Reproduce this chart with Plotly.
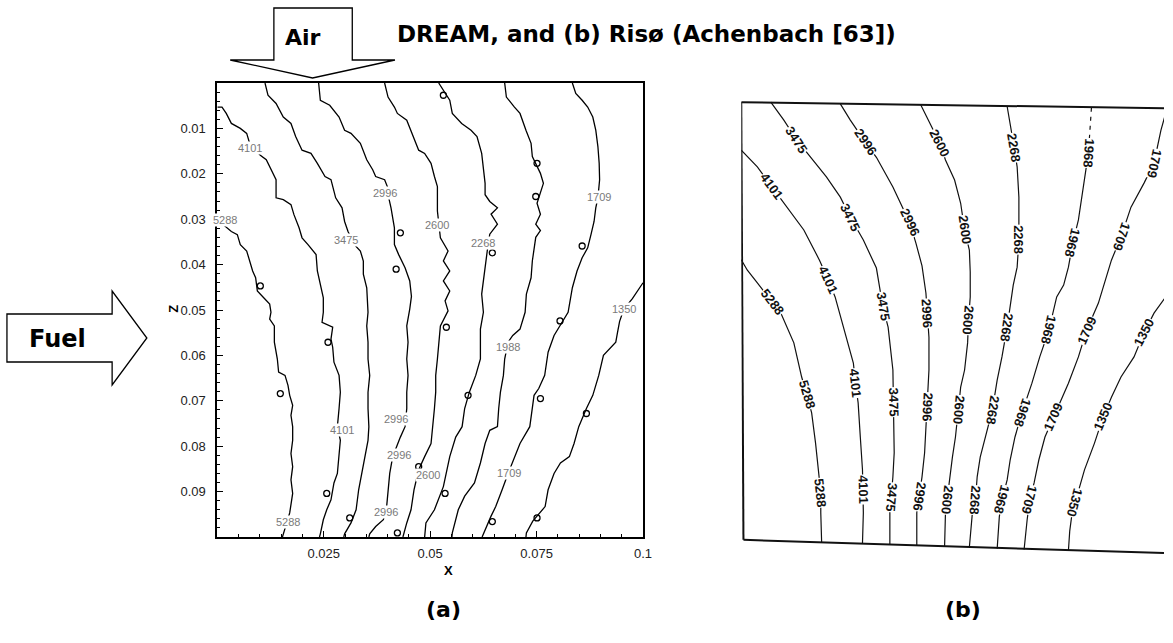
import math
import numpy as np
import plotly.graph_objects as go

W, H = 1173, 643

# ---------------- panel (a): DREAM isotherm lines, x and z in metres ----------------
A_5288_X = [0.0, 0.0015, 0.0033, 0.0047, 0.0054, 0.0069, 0.0076, 0.0083, 0.0090, 0.0094, 0.0109, 0.0123, 0.0126, 0.0123, 0.0134, 0.0134, 0.0141, 0.0144, 0.0159, 0.0166, 0.0170, 0.0177, 0.0173, 0.0177, 0.0177, 0.0173, 0.0177, 0.0173, 0.0177, 0.0173, 0.0170, 0.0163, 0.0155, 0.0153]
A_5288_Z = [0.0301, 0.0312, 0.0327, 0.0334, 0.0356, 0.0370, 0.0392, 0.0414, 0.0429, 0.0458, 0.0473, 0.0487, 0.0505, 0.0520, 0.0535, 0.0571, 0.0608, 0.0637, 0.0644, 0.0666, 0.0688, 0.0710, 0.0732, 0.0757, 0.0787, 0.0816, 0.0845, 0.0874, 0.0904, 0.0925, 0.0947, 0.0969, 0.0993, 0.1000]

A_4101_X = [0.0, 0.0011, 0.0021, 0.0033, 0.0054, 0.0069, 0.0076, 0.0101, 0.0115, 0.0126, 0.0138, 0.0138, 0.0155, 0.0173, 0.0180, 0.0192, 0.0199, 0.0213, 0.0232, 0.0235, 0.0242, 0.0249, 0.0249, 0.0246, 0.0271, 0.0267, 0.0271, 0.0274, 0.0286, 0.0289, 0.0286, 0.0282, 0.0289, 0.0286, 0.0282, 0.0274, 0.0267, 0.0257, 0.0249, 0.0242, 0.0240]
A_4101_Z = [0.0053, 0.0053, 0.0067, 0.0089, 0.0100, 0.0111, 0.0133, 0.0159, 0.0169, 0.0191, 0.0213, 0.0253, 0.0257, 0.0268, 0.0290, 0.0319, 0.0341, 0.0356, 0.0378, 0.0414, 0.0443, 0.0473, 0.0505, 0.0527, 0.0538, 0.0564, 0.0582, 0.0615, 0.0644, 0.0681, 0.0717, 0.0757, 0.0787, 0.0823, 0.0860, 0.0881, 0.0918, 0.0940, 0.0962, 0.0993, 0.1000]

A_3475_X = [0.0112, 0.0119, 0.0138, 0.0155, 0.0173, 0.0184, 0.0199, 0.0220, 0.0235, 0.0253, 0.0267, 0.0274, 0.0278, 0.0293, 0.0299, 0.0307, 0.0322, 0.0336, 0.0343, 0.0343, 0.0351, 0.0354, 0.0351, 0.0354, 0.0354, 0.0358, 0.0354, 0.0354, 0.0356, 0.0354, 0.0347, 0.0339, 0.0332, 0.0326, 0.0314, 0.0299, 0.0297]
A_3475_Z = [0.0, 0.0027, 0.0045, 0.0075, 0.0089, 0.0118, 0.0148, 0.0155, 0.0177, 0.0206, 0.0213, 0.0235, 0.0253, 0.0275, 0.0305, 0.0327, 0.0356, 0.0370, 0.0392, 0.0421, 0.0451, 0.0505, 0.0535, 0.0571, 0.0608, 0.0644, 0.0681, 0.0717, 0.0757, 0.0787, 0.0823, 0.0860, 0.0896, 0.0940, 0.0969, 0.0993, 0.1000]

A_2996_X = [0.0238, 0.0242, 0.0264, 0.0286, 0.0299, 0.0314, 0.0336, 0.0351, 0.0365, 0.0372, 0.0393, 0.0401, 0.0401, 0.0408, 0.0416, 0.0416, 0.0426, 0.0441, 0.0452, 0.0456, 0.0452, 0.0445, 0.0448, 0.0445, 0.0448, 0.0445, 0.0445, 0.0441, 0.0430, 0.0412, 0.0405, 0.0401, 0.0397, 0.0390, 0.0372, 0.0358, 0.0356]
A_2996_Z = [0.0, 0.0038, 0.0049, 0.0075, 0.0104, 0.0111, 0.0133, 0.0169, 0.0191, 0.0206, 0.0213, 0.0232, 0.0246, 0.0275, 0.0319, 0.0356, 0.0378, 0.0407, 0.0436, 0.0470, 0.0498, 0.0535, 0.0571, 0.0608, 0.0644, 0.0681, 0.0717, 0.0757, 0.0780, 0.0823, 0.0860, 0.0896, 0.0940, 0.0962, 0.0977, 0.0993, 0.1000]

A_2600_X = [0.0393, 0.0401, 0.0416, 0.0423, 0.0445, 0.0458, 0.0473, 0.0487, 0.0502, 0.0510, 0.0517, 0.0517, 0.0517, 0.0524, 0.0542, 0.0531, 0.0546, 0.0531, 0.0546, 0.0535, 0.0542, 0.0524, 0.0521, 0.0517, 0.0513, 0.0513, 0.0510, 0.0506, 0.0502, 0.0487, 0.0473, 0.0462, 0.0455, 0.0445, 0.0437, 0.0436]
A_2600_Z = [0.0, 0.0031, 0.0053, 0.0067, 0.0082, 0.0111, 0.0148, 0.0155, 0.0177, 0.0206, 0.0228, 0.0253, 0.0282, 0.0341, 0.0370, 0.0392, 0.0414, 0.0436, 0.0458, 0.0480, 0.0502, 0.0535, 0.0571, 0.0608, 0.0644, 0.0681, 0.0717, 0.0757, 0.0794, 0.0823, 0.0852, 0.0896, 0.0940, 0.0969, 0.0993, 0.1000]

A_2268_X = [0.0520, 0.0546, 0.0552, 0.0574, 0.0596, 0.0610, 0.0621, 0.0625, 0.0629, 0.0629, 0.0640, 0.0658, 0.0643, 0.0658, 0.0640, 0.0636, 0.0625, 0.0621, 0.0625, 0.0618, 0.0618, 0.0607, 0.0592, 0.0581, 0.0575, 0.0560, 0.0546, 0.0531, 0.0510, 0.0490, 0.0487]
A_2268_Z = [0.0, 0.0038, 0.0067, 0.0089, 0.0104, 0.0118, 0.0155, 0.0191, 0.0221, 0.0246, 0.0261, 0.0275, 0.0289, 0.0311, 0.0333, 0.0356, 0.0429, 0.0465, 0.0505, 0.0542, 0.0608, 0.0644, 0.0681, 0.0717, 0.0757, 0.0780, 0.0823, 0.0889, 0.0940, 0.0969, 0.1000]

A_1988_X = [0.0675, 0.0679, 0.0698, 0.0711, 0.0725, 0.0737, 0.0740, 0.0759, 0.0766, 0.0755, 0.0751, 0.0759, 0.0748, 0.0759, 0.0748, 0.0740, 0.0737, 0.0726, 0.0723, 0.0711, 0.0694, 0.0683, 0.0675, 0.0672, 0.0665, 0.0661, 0.0658, 0.0640, 0.0629, 0.0618, 0.0604, 0.0581, 0.0566, 0.0552, 0.0551]
A_1988_Z = [0.0, 0.0031, 0.0053, 0.0067, 0.0104, 0.0133, 0.0162, 0.0199, 0.0221, 0.0253, 0.0265, 0.0289, 0.0311, 0.0325, 0.0340, 0.0392, 0.0429, 0.0465, 0.0505, 0.0542, 0.0556, 0.0571, 0.0608, 0.0644, 0.0681, 0.0717, 0.0757, 0.0765, 0.0794, 0.0837, 0.0881, 0.0910, 0.0940, 0.0991, 0.1000]

A_1709_X = [0.0834, 0.0842, 0.0857, 0.0870, 0.0882, 0.0889, 0.0894, 0.0897, 0.0898, 0.0894, 0.0889, 0.0885, 0.0878, 0.0870, 0.0857, 0.0845, 0.0834, 0.0824, 0.0791, 0.0777, 0.0769, 0.0755, 0.0744, 0.0740, 0.0734, 0.0711, 0.0698, 0.0683, 0.0669, 0.0654, 0.0643, 0.0625, 0.0622]
A_1709_Z = [0.0, 0.0023, 0.0038, 0.0053, 0.0075, 0.0104, 0.0140, 0.0177, 0.0213, 0.0253, 0.0275, 0.0305, 0.0333, 0.0363, 0.0385, 0.0414, 0.0451, 0.0505, 0.0556, 0.0593, 0.0644, 0.0673, 0.0688, 0.0717, 0.0757, 0.0794, 0.0823, 0.0860, 0.0896, 0.0933, 0.0954, 0.0991, 0.1000]

A_1350_X = [0.1000, 0.0975, 0.0955, 0.0945, 0.0940, 0.0936, 0.0907, 0.0896, 0.0882, 0.0867, 0.0849, 0.0838, 0.0827, 0.0806, 0.0791, 0.0777, 0.0770, 0.0741, 0.0726, 0.0725]
A_1350_Z = [0.0440, 0.0475, 0.0498, 0.0525, 0.0550, 0.0571, 0.0600, 0.0644, 0.0688, 0.0717, 0.0757, 0.0794, 0.0823, 0.0837, 0.0860, 0.0896, 0.0933, 0.0965, 0.0991, 0.1000]

# contour labels of panel (a)
A_LABEL_TEXT = ["4101", "5288", "2996", "1709", "2600", "3475", "2268", "1350",
                "1988", "2996", "4101", "2996", "2600", "1709", "2996", "5288"]
A_LABEL_X = [0.0076, 0.0017, 0.0393, 0.0896, 0.0517, 0.0303, 0.0625, 0.0955,
             0.0683, 0.0419, 0.0293, 0.0426, 0.0495, 0.0686, 0.0397, 0.0166]
A_LABEL_Z = [0.0144, 0.0301, 0.0243, 0.0250, 0.0312, 0.0345, 0.0352, 0.0498,
             0.0582, 0.0739, 0.0765, 0.0820, 0.0863, 0.0858, 0.0944, 0.0966]

# small closed isotherm islands of panel (a)
A_ISLAND_X = [0.0531, 0.0751, 0.0748, 0.0430, 0.0420, 0.0101, 0.0646, 0.0857, 0.0260, 0.0538, 0.0148,
              0.0589, 0.0805, 0.0759, 0.0867, 0.0257, 0.0311, 0.0423, 0.0535, 0.0646, 0.0751, 0.0473]
A_ISLAND_Z = [0.0027, 0.0177, 0.0250, 0.0330, 0.0410, 0.0447, 0.0374, 0.0359, 0.0571, 0.0538, 0.0684,
              0.0688, 0.0524, 0.0695, 0.0728, 0.0904, 0.0958, 0.0991, 0.0904, 0.0966, 0.0958, 0.0845]

# ---------------- panel (b): Risø isotherm lines, same units ----------------
B_5288_X = [0.0, 0.0014, 0.0037, 0.0064, 0.0091, 0.0121, 0.0139, 0.0151, 0.0162, 0.0171, 0.0178, 0.0183, 0.0183, 0.0185]
B_5288_Z = [0.0360, 0.0384, 0.0413, 0.0447, 0.0482, 0.0550, 0.0628, 0.0669, 0.0710, 0.0779, 0.0847, 0.0893, 0.0938, 0.1006]

B_4101_X = [0.0, 0.0037, 0.0071, 0.0105, 0.0144, 0.0180, 0.0200, 0.0216, 0.0242, 0.0258, 0.0263, 0.0269, 0.0274, 0.0279, 0.0280, 0.0281, 0.0279]
B_4101_Z = [0.0110, 0.0148, 0.0194, 0.0240, 0.0292, 0.0361, 0.0405, 0.0445, 0.0537, 0.0596, 0.0642, 0.0687, 0.0765, 0.0840, 0.0886, 0.0938, 0.1008]

B_3475_X = [0.0068, 0.0098, 0.0128, 0.0160, 0.0196, 0.0228, 0.0251, 0.0281, 0.0311, 0.0326, 0.0338, 0.0349, 0.0350, 0.0352, 0.0352, 0.0349, 0.0345, 0.0342, 0.0342]
B_3475_Z = [0.0, 0.0041, 0.0087, 0.0126, 0.0171, 0.0217, 0.0263, 0.0315, 0.0379, 0.0468, 0.0514, 0.0612, 0.0685, 0.0726, 0.0801, 0.0856, 0.0902, 0.0938, 0.1010]

B_2996_X = [0.0228, 0.0251, 0.0285, 0.0311, 0.0349, 0.0388, 0.0402, 0.0416, 0.0425, 0.0428, 0.0432, 0.0432, 0.0428, 0.0425, 0.0422, 0.0416, 0.0409, 0.0404, 0.0404]
B_2996_Z = [0.0004, 0.0041, 0.0091, 0.0126, 0.0194, 0.0276, 0.0322, 0.0374, 0.0436, 0.0482, 0.0537, 0.0612, 0.0696, 0.0742, 0.0801, 0.0856, 0.0902, 0.0938, 0.1012]

B_2600_X = [0.0413, 0.0434, 0.0457, 0.0470, 0.0491, 0.0505, 0.0514, 0.0525, 0.0527, 0.0527, 0.0523, 0.0521, 0.0514, 0.0505, 0.0500, 0.0493, 0.0486, 0.0479, 0.0475, 0.0470, 0.0468]
B_2600_Z = [0.0006, 0.0048, 0.0094, 0.0132, 0.0178, 0.0231, 0.0292, 0.0338, 0.0388, 0.0445, 0.0498, 0.0550, 0.0612, 0.0651, 0.0703, 0.0765, 0.0811, 0.0870, 0.0909, 0.0938, 0.1014]

B_2268_X = [0.0612, 0.0619, 0.0628, 0.0635, 0.0639, 0.0639, 0.0635, 0.0626, 0.0612, 0.0600, 0.0589, 0.0578, 0.0562, 0.0550, 0.0543, 0.0539, 0.0532, 0.0525]
B_2268_Z = [0.0010, 0.0048, 0.0103, 0.0148, 0.0217, 0.0315, 0.0377, 0.0418, 0.0514, 0.0582, 0.0635, 0.0703, 0.0765, 0.0811, 0.0856, 0.0909, 0.0938, 0.1017]

B_1968_X = [0.0806, 0.0799, 0.0790, 0.0776, 0.0763, 0.0753, 0.0742, 0.0726, 0.0708, 0.0687, 0.0669, 0.0646, 0.0630, 0.0619, 0.0612, 0.0600, 0.0594, 0.0589]
B_1968_Z = [0.0013, 0.0116, 0.0178, 0.0269, 0.0322, 0.0377, 0.0418, 0.0445, 0.0521, 0.0582, 0.0642, 0.0710, 0.0765, 0.0817, 0.0863, 0.0909, 0.0947, 0.1020]

B_1709_X = [0.0979, 0.0966, 0.0950, 0.0927, 0.0897, 0.0874, 0.0852, 0.0845, 0.0822, 0.0795, 0.0776, 0.0753, 0.0719, 0.0699, 0.0685, 0.0674, 0.0664, 0.0658, 0.0651]
B_1709_Z = [0.0018, 0.0064, 0.0139, 0.0185, 0.0240, 0.0308, 0.0361, 0.0384, 0.0459, 0.0521, 0.0582, 0.0642, 0.0719, 0.0765, 0.0817, 0.0870, 0.0909, 0.0954, 0.1022]

B_1350_X = [0.0977, 0.0950, 0.0927, 0.0904, 0.0874, 0.0852, 0.0833, 0.0813, 0.0790, 0.0776, 0.0768, 0.0760, 0.0756, 0.0753]
B_1350_Z = [0.0445, 0.0482, 0.0527, 0.0582, 0.0628, 0.0674, 0.0719, 0.0779, 0.0840, 0.0886, 0.0916, 0.0950, 0.0980, 0.1025]

# inline labels of panel (b): level and depth z; x follows the line
B_LABEL_TEXT = ["5288", "5288", "5288",
                "4101", "4101", "4101", "4101",
                "3475", "3475", "3475", "3475", "3475",
                "2996", "2996", "2996", "2996", "2996",
                "2600", "2600", "2600", "2600", "2600",
                "2268", "2268", "2268", "2268", "2268",
                "1968", "1968", "1968", "1968", "1968",
                "1709", "1709", "1709", "1709", "1709",
                "1350", "1350", "1350"]
B_LABEL_Z = [0.0456, 0.0669, 0.0893,
             0.0193, 0.0405, 0.0642, 0.0886,
             0.0087, 0.0263, 0.0468, 0.0685, 0.0902,
             0.0091, 0.0276, 0.0482, 0.0696, 0.0902,
             0.0094, 0.0292, 0.0498, 0.0703, 0.0909,
             0.0103, 0.0315, 0.0514, 0.0703, 0.0909,
             0.0116, 0.0322, 0.0521, 0.0710, 0.0909,
             0.0139, 0.0308, 0.0521, 0.0719, 0.0909,
             0.0527, 0.0719, 0.0916]

# frame of the scanned Risø plot (slightly rotated scan), axis units
B_FRAME_X = [0.0973, 0.0, 0.0005, 0.0973]
B_FRAME_Z = [0.0014, 0.0, 0.1000, 0.1030]

A_LINES = {
    "5288": (A_5288_X, A_5288_Z), "4101": (A_4101_X, A_4101_Z), "3475": (A_3475_X, A_3475_Z),
    "2996": (A_2996_X, A_2996_Z), "2600": (A_2600_X, A_2600_Z), "2268": (A_2268_X, A_2268_Z),
    "1988": (A_1988_X, A_1988_Z), "1709": (A_1709_X, A_1709_Z), "1350": (A_1350_X, A_1350_Z),
}
B_LINES = {
    "5288": (B_5288_X, B_5288_Z), "4101": (B_4101_X, B_4101_Z), "3475": (B_3475_X, B_3475_Z),
    "2996": (B_2996_X, B_2996_Z), "2600": (B_2600_X, B_2600_Z), "2268": (B_2268_X, B_2268_Z),
    "1968": (B_1968_X, B_1968_Z), "1709": (B_1709_X, B_1709_Z), "1350": (B_1350_X, B_1350_Z),
}


def px_x(p):
    return p / W


def px_y(p):
    return 1 - p / H


fig = go.Figure()

# panel (a) isolines
for level, (xs, zs) in A_LINES.items():
    fig.add_trace(go.Scatter(x=xs, y=zs, mode="lines", xaxis="x", yaxis="y",
                             line=dict(color="black", width=1.3), hoverinfo="skip",
                             name=level, showlegend=False))
fig.add_trace(go.Scatter(x=A_ISLAND_X, y=A_ISLAND_Z, mode="markers", xaxis="x", yaxis="y",
                         marker=dict(symbol="circle-open", size=6, color="black",
                                     line=dict(width=1.3, color="black")),
                         hoverinfo="skip", showlegend=False))

# panel (b) isolines; the top run of 1968 is dashed in the scan
for level, (xs, zs) in B_LINES.items():
    if level == "1968":
        fig.add_trace(go.Scatter(x=xs[:2], y=zs[:2], mode="lines", xaxis="x2", yaxis="y2",
                                 line=dict(color="#111", width=1.2, dash="4px,5px"),
                                 hoverinfo="skip", showlegend=False))
        xs, zs = xs[1:], zs[1:]
    fig.add_trace(go.Scatter(x=xs, y=zs, mode="lines", xaxis="x2", yaxis="y2",
                             line=dict(color="#111", width=1.2), hoverinfo="skip",
                             name=level, showlegend=False))

annotations = []
for text, x, z in zip(A_LABEL_TEXT, A_LABEL_X, A_LABEL_Z):
    annotations.append(dict(x=x, y=z, xref="x", yref="y", text=text, showarrow=False,
                            xanchor="center", yanchor="middle",
                            font=dict(family="Arial, Liberation Sans", size=11, color="#7a7a7a"),
                            bgcolor="white", borderpad=0))

for text, z in zip(B_LABEL_TEXT, B_LABEL_Z):
    xs, zs = B_LINES[text]
    x = float(np.interp(z, zs, xs))
    i = int(np.clip(np.searchsorted(zs, z), 1, len(zs) - 1))
    ang = math.degrees(math.atan2(zs[i] - zs[i - 1], xs[i] - xs[i - 1]))
    if ang > 110:
        ang -= 180
    annotations.append(dict(x=x, y=z, xref="x2", yref="y2", text=text, showarrow=False,
                            textangle=ang, xanchor="center", yanchor="middle",
                            font=dict(family="Liberation Sans Narrow, Arial Narrow, Arial",
                                      size=13, color="#111", weight="bold"),
                            bgcolor="white", borderpad=0))

BOLD = "DejaVu Sans, Verdana, sans-serif"


def paper_text(text, x, y, size, family=BOLD, angle=0, xanchor="center"):
    return dict(x=px_x(x), y=px_y(y), xref="paper", yref="paper", text=text, showarrow=False,
                xanchor=xanchor, yanchor="middle", textangle=angle,
                font=dict(family=family, size=size, color="black"))


annotations += [
    paper_text("<b>DREAM, and (b) Risø (Achenbach [63])</b>", 398, 34, 23, xanchor="left"),
    paper_text("<b>Air</b>", 305, 37, 22),
    paper_text("<b>Fuel</b>", 58, 339, 24),
    paper_text("<b>(a)</b>", 447, 609, 22),
    paper_text("<b>(b)</b>", 970, 609, 22),
    paper_text("<b>X</b>", 452, 570, 13, family="Arial, Liberation Sans"),
    paper_text("<b>Z</b>", 175, 309, 13, family="Arial, Liberation Sans", angle=-90),
]


def path(points):
    return "M " + " L ".join(f"{px_x(a):.5f},{px_y(b):.5f}" for a, b in points) + " Z"


shapes = [
    # inflow arrows
    dict(type="path", xref="paper", yref="paper",
         path=path([(276, 8), (355, 8), (355, 60), (398, 60), (315, 78), (232, 60), (276, 60)]),
         line=dict(color="black", width=1.3), fillcolor="white"),
    dict(type="path", xref="paper", yref="paper",
         path=path([(7, 314), (113, 314), (113, 291), (148, 338), (113, 385), (113, 362), (7, 362)]),
         line=dict(color="black", width=1.3), fillcolor="white"),
]
for k in range(3):
    shapes.append(dict(type="line", xref="x2", yref="y2",
                       x0=B_FRAME_X[k], y0=B_FRAME_Z[k], x1=B_FRAME_X[k + 1], y1=B_FRAME_Z[k + 1],
                       line=dict(color="#111", width=2)))

tick_font = dict(family="Arial, Liberation Sans", size=13, color="#222")
fig.update_layout(
    width=W, height=H, margin=dict(l=0, r=0, t=0, b=0),
    paper_bgcolor="white", plot_bgcolor="rgba(0,0,0,0)", showlegend=False,
    xaxis=dict(domain=[px_x(219), px_x(648)], range=[0, 0.1],
               tickvals=[0.025, 0.05, 0.075, 0.1], ticktext=["0.025", "0.05", "0.075", "0.1"],
               ticks="inside", ticklen=6, tickcolor="black", tickfont=tick_font, ticklabelstandoff=3,
               showline=True, linecolor="black", linewidth=2, mirror=True,
               showgrid=False, zeroline=False,
               minor=dict(ticks="inside", ticklen=3, tickcolor="black", dtick=0.005, tick0=0, showgrid=False)),
    yaxis=dict(domain=[px_y(537), px_y(83)], range=[0.1, 0],
               tickvals=[0.01, 0.02, 0.03, 0.04, 0.05, 0.06, 0.07, 0.08, 0.09],
               ticktext=["0.01", "0.02", "0.03", "0.04", "0.05", "0.06", "0.07", "0.08", "0.09"],
               ticks="inside", ticklen=6, tickcolor="black", tickfont=tick_font, ticklabelstandoff=7,
               showline=True, linecolor="black", linewidth=2, mirror=True,
               showgrid=False, zeroline=False,
               minor=dict(ticks="inside", ticklen=3, tickcolor="black", dtick=0.002, tick0=0, showgrid=False)),
    xaxis2=dict(domain=[px_x(747), 1.0], range=[0, 0.0973], visible=False),
    yaxis2=dict(domain=[px_y(560), px_y(96)], range=[0.1046, -0.0014], visible=False, anchor="x2"),
    annotations=annotations, shapes=shapes,
)

fig.write_html("out.html", config={"displayModeBar": False})
